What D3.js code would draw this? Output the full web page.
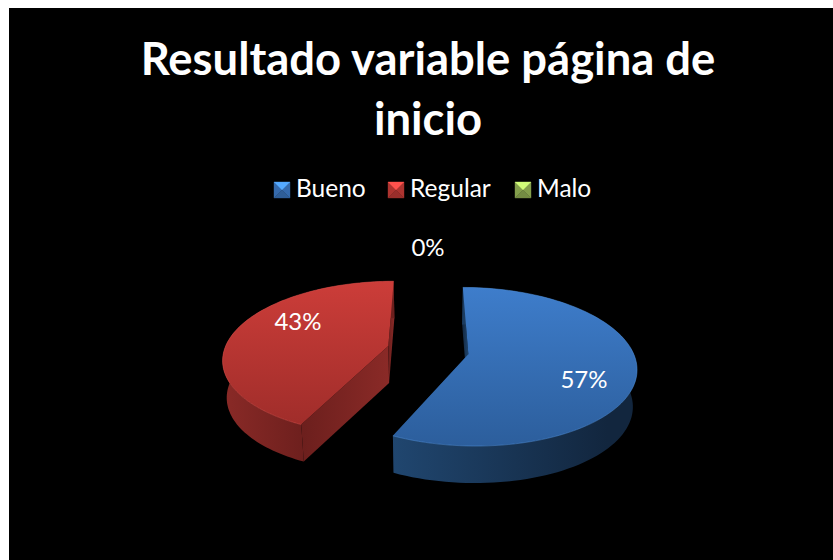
<!DOCTYPE html>
<html>
<head>
<meta charset="utf-8">
<script src="https://d3js.org/d3.v7.min.js"></script>
<style>
  body { margin: 0; background: #fff; }
  text { font-family: Lato, "Open Sans", sans-serif; fill: #fff; }
</style>
</head>
<body>
<div id="chart"></div>
<script>
var categories = ["Bueno", "Regular", "Malo"];
var values = [57, 43, 0];
var percentLabels = ["57%", "43%", "0%"];
var titleLines = ["Resultado variable página de", "inicio"];

var width = 833;
var height = 560;

// look of each slice, same order as categories
var topColors = [["#3e7dcb", "#2c5e9c"], ["#cc3d39", "#a02d2a"], ["#9bbb59", "#76923c"]];
var wallColors = [["#20466f", "#12263e"], ["#8a2a27", "#6c1f1d"], ["#5f7530", "#4a5c26"]];
var wallStops = ["88%", "50%", "50%"];
var edgeColors = ["#4f8fda", "#d9504c", "#b5d56b"];
var legendX = [274, 388, 515];
var labelX = [584, 298, 428];
var labelY = [388, 330, 256];

var svg = d3
  .select("#chart")
  .append("svg")
  .attr("width", width)
  .attr("height", height)
  .style("display", "block");

svg
  .append("rect")
  .attr("x", 9)
  .attr("y", 8)
  .attr("width", width - 9)
  .attr("height", height - 8)
  .attr("fill", "#000");

var defs = svg.append("defs");

categories.forEach(function(c, i) {
  var top = defs.append("linearGradient").attr("id", "top" + i)
    .attr("x1", 0).attr("y1", 0).attr("x2", 0).attr("y2", 1);
  top.append("stop").attr("offset", "0%").attr("stop-color", topColors[i][0]);
  top.append("stop").attr("offset", "100%").attr("stop-color", topColors[i][1]);

  var wall = defs.append("linearGradient").attr("id", "wall" + i)
    .attr("x1", 0).attr("y1", 0).attr("x2", 1).attr("y2", 0);
  wall.append("stop").attr("offset", "0%").attr("stop-color", wallColors[i][0]);
  wall.append("stop").attr("offset", wallStops[i]).attr("stop-color", wallColors[i][1]);

  // cut faces run the other way: darker at the outer end
  var cut = defs.append("linearGradient").attr("id", "cut" + i)
    .attr("x1", 0).attr("y1", 0).attr("x2", 1).attr("y2", 0);
  cut.append("stop").attr("offset", "0%").attr("stop-color", wallColors[i][1]);
  cut.append("stop").attr("offset", "100%").attr("stop-color", wallColors[i][0]);
});

// perspective view of the pie plane
var cx = 428;
var cy = 350;
var R = 164;
var Ry = 76;
var k = 0.157;
var explode = 0.25;
var depth = 37;
var floorShrink = 0.98;

function project(u, v) {
  var s = 1 / (1 - k * v);
  return [cx + R * u * s, cy + Ry * v * s];
}

var pie = d3.pie().sort(null).value(function(d) { return d; });
var slices = pie(values);
var line = d3.line();

// lower rim sits a little further from the viewer, so it pulls in towards cx
function down(p) {
  return [cx + (p[0] - cx) * floorShrink, p[1] + depth];
}

slices.forEach(function(d, i) {
  if (d.value === 0) return;
  var mid = (d.startAngle + d.endAngle) / 2;
  var ox = explode * Math.sin(mid);
  var oy = -explode * Math.cos(mid);

  var arc = d3.range(0, 101).map(function(t) {
    var a = d.startAngle + (d.endAngle - d.startAngle) * t / 100;
    return project(ox + Math.sin(a), oy - Math.cos(a));
  });
  var apex = project(ox, oy);
  var first = arc[0];
  var last = arc[arc.length - 1];

  var g = svg.append("g").attr("class", "slice");

  [[apex, first], [last, apex]].forEach(function(e) {
    g.append("path")
      .attr("d", line([e[0], e[1], down(e[1]), down(e[0])]) + "Z")
      .attr("fill", "url(#cut" + i + ")");
  });

  g.append("path")
    .attr("d", line(arc.concat(arc.map(down).reverse())) + "Z")
    .attr("fill", "url(#wall" + i + ")");

  g.append("path")
    .attr("d", line([apex].concat(arc)) + "Z")
    .attr("fill", "url(#top" + i + ")");

  // thin bevel along the rim
  g.append("path")
    .attr("d", line(arc))
    .attr("fill", "none")
    .attr("stroke", edgeColors[i])
    .attr("stroke-opacity", 0.5)
    .attr("stroke-width", 1);
});

svg
  .selectAll(".title")
  .data(titleLines)
  .enter()
  .append("text")
  .attr("class", "title")
  .attr("x", 428)
  .attr("y", function(d, i) { return 75 + i * 60; })
  .attr("text-anchor", "middle")
  .style("font-size", "45.4px")
  .style("font-weight", 700)
  .text(function(d) { return d; });

var legend = svg
  .selectAll(".legend")
  .data(categories)
  .enter()
  .append("g")
  .attr("class", "legend")
  .attr("transform", function(d, i) { return "translate(" + legendX[i] + ",182)"; });

// bevelled key: four triangles meeting in the middle
var keySize = 16;
var bevel = [
  { pts: [[0, 0], [keySize / 2, keySize / 2], [0, keySize]], shade: 0.85 },
  { pts: [[keySize, 0], [keySize, keySize], [keySize / 2, keySize / 2]], shade: 0.85 },
  { pts: [[0, keySize], [keySize, keySize], [keySize / 2, keySize / 2]], shade: 0.75 },
  { pts: [[0, 0], [keySize, 0], [keySize / 2, keySize / 2]], shade: 1.35 }
];

legend.each(function(d, i) {
  var key = d3.select(this);
  bevel.forEach(function(b) {
    var shade = d3.color(topColors[i][0]).brighter(-Math.log(b.shade) / Math.log(0.7));
    key.append("path")
      .attr("d", line(b.pts) + "Z")
      .attr("fill", shade)
      .attr("stroke", shade)
      .attr("stroke-width", 0.4);
  });
  key.append("text")
    .attr("x", keySize + 6)
    .attr("y", 15)
    .style("font-size", "24.5px")
    .text(d);
});

svg
  .selectAll(".pct")
  .data(percentLabels)
  .enter()
  .append("text")
  .attr("class", "pct")
  .attr("x", function(d, i) { return labelX[i]; })
  .attr("y", function(d, i) { return labelY[i]; })
  .attr("text-anchor", "middle")
  .style("font-size", "24px")
  .text(function(d) { return d; });
</script>
</body>
</html>
